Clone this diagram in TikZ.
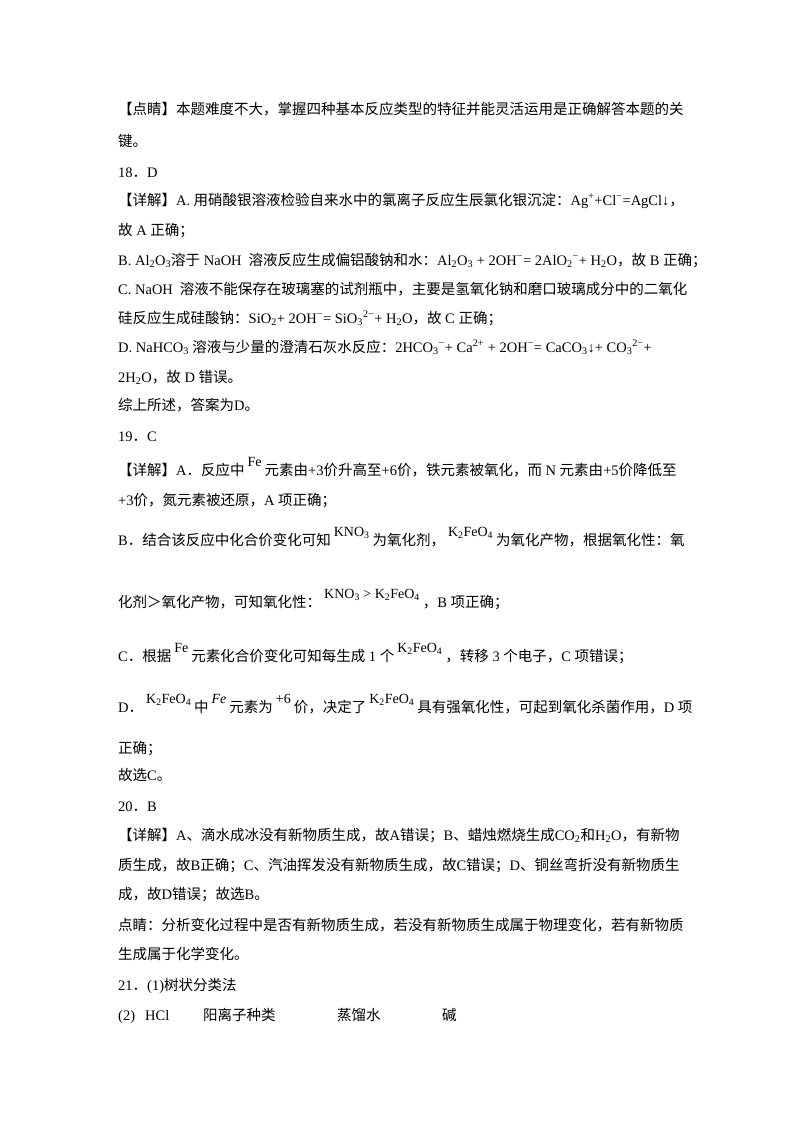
\documentclass[tikz,border=0pt]{standalone}
\usepackage{fontspec}
\setmainfont{Noto Sans CJK SC}
\newfontfamily\lat{Liberation Serif}
\newcommand\E[1]{{\lat #1}}
\newcommand\Sb[1]{\textsubscript{\lat #1}}
\newcommand\Sp[1]{\textsuperscript{\lat #1}}
\newcommand\R[1]{\hspace{3pt}\raisebox{9pt}{\fontsize{14}{14}\selectfont\lat #1}\hspace{3pt}}
\begin{document}
\begin{tikzpicture}[x=1pt,y=-1pt,every node/.style={anchor=base west,inner sep=0pt,font=\fontsize{14.5}{15}\selectfont}]
\useasboundingbox (0,0) rectangle (800,1132);
\node (l1) at (118,114) {【点睛】本题难度不大，掌握四种基本反应类型的特征并能灵活运用是正确解答本题的关};
\node (l2) at (118,146) {键。};
\node (l3) at (118,177) {\E{18}．\E{D}};
\node (l4) at (118,205) {【详解】\E{A.} 用硝酸银溶液检验自来水中的氯离子反应生辰氯化银沉淀：\E{Ag}\Sp{+}\E{+Cl}\Sp{−}\E{=AgCl↓}，};
\node (l5) at (118,235) {故\E{ A }正确；};
\node (l6) at (118,265) {\E{B. Al}\Sb{2}\E{O}\Sb{3}溶于\E{ NaOH } 溶液反应生成偏铝酸钠和水：\E{Al}\Sb{2}\E{O}\Sb{3}\E{ + 2OH}\Sp{−}\E{= 2AlO}\Sb{2}\Sp{−}\E{+ H}\Sb{2}\E{O}，故\E{ B }正确；};
\node (l7) at (118,294) {\E{C. NaOH } 溶液不能保存在玻璃塞的试剂瓶中，主要是氢氧化钠和磨口玻璃成分中的二氧化};
\node (l8) at (118,323) {硅反应生成硅酸钠：\E{SiO}\Sb{2}\E{+ 2OH}\Sp{−}\E{= SiO}\Sb{3}\Sp{2−}\E{+ H}\Sb{2}\E{O}，故\E{ C }正确；};
\node (l9) at (118,352) {\E{D. NaHCO}\Sb{3} 溶液与少量的澄清石灰水反应：\E{2HCO}\Sb{3}\Sp{−}\E{+ Ca}\Sp{2+}\E{ + 2OH}\Sp{−}\E{= CaCO}\Sb{3}\E{↓+ CO}\Sb{3}\Sp{2−}\E{+}};
\node (l10) at (118,382) {\E{2H}\Sb{2}\E{O}，故\E{ D }错误。};
\node (l11) at (118,410) {综上所述，答案为\E{D}。};
\node (l12) at (118,441) {\E{19}．\E{C}};
\node (l13) at (118,475) {【详解】\E{A}．反应中\R{Fe}元素由\E{+3}价升高至\E{+6}价，铁元素被氧化，而\E{ N }元素由\E{+5}价降低至};
\node (l14) at (118,505) {\E{+3}价，氮元素被还原，\E{A }项正确；};
\node (l15) at (118,545) {\E{B}．结合该反应中化合价变化可知\R{KNO\Sb{3}}为氧化剂，\R{K\Sb{2}FeO\Sb{4}}为氧化产物，根据氧化性：氧};
\node (l16) at (118,607) {化剂＞氧化产物，可知氧化性：\R{KNO\Sb{3} > K\Sb{2}FeO\Sb{4}}，\E{B }项正确；};
\node (l17) at (118,661) {\E{C}．根据\R{Fe}元素化合价变化可知每生成\E{ 1 }个\R{K\Sb{2}FeO\Sb{4}}，转移\E{ 3 }个电子，\E{C }项错误；};
\node (l18) at (118,712) {\E{D}．\R{K\Sb{2}FeO\Sb{4}}中\R{\itshape Fe}元素为\R{+6}价，决定了\R{K\Sb{2}FeO\Sb{4}}具有强氧化性，可起到氧化杀菌作用，\E{D }项};
\node (l19) at (118,753) {正确；};
\node (l20) at (118,780) {故选\E{C}。};
\node (l21) at (118,811) {\E{20}．\E{B}};
\node (l22) at (118,840) {【详解】\E{A}、滴水成冰没有新物质生成，故\E{A}错误；\E{B}、蜡烛燃烧生成\E{CO}\Sb{2}和\E{H}\Sb{2}\E{O}，有新物};
\node (l23) at (118,870) {质生成，故\E{B}正确；\E{C}、汽油挥发没有新物质生成，故\E{C}错误；\E{D}、铜丝弯折没有新物质生};
\node (l24) at (118,899) {成，故\E{D}错误；故选\E{B}。};
\node (l25) at (118,930) {点睛：分析变化过程中是否有新物质生成，若没有新物质生成属于物理变化，若有新物质};
\node (l26) at (118,959) {生成属于化学变化。};
\node (l27) at (118,990) {\E{21}．\E{(1)}树状分类法};
\node (l28a) at (118,1020) {\E{(2)}};
\node (l28b) at (145,1020) {\E{HCl}};
\node (l28c) at (203,1020) {阳离子种类};
\node (l28d) at (337,1020) {蒸馏水};
\node (l28e) at (442,1020) {碱};
\end{tikzpicture}
\end{document}
